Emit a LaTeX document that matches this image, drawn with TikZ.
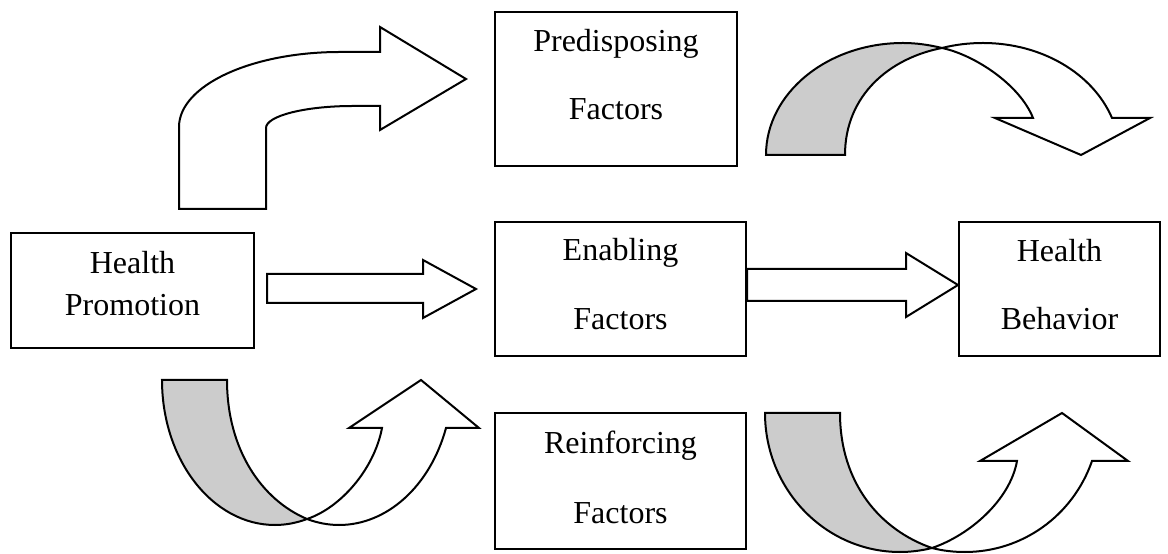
\documentclass[tikz,border=0pt]{standalone}
\usepackage{fontspec}
\setmainfont{Liberation Serif}
\definecolor{backgrey}{RGB}{204,204,204}
\newcommand{\pxu}{0.375pt}
\tikzset{
  factor/.style 2 args={draw, line width=0.75pt, inner sep=0pt,
    minimum width=#1*\pxu, minimum height=#2*\pxu},
  word/.style={anchor=base, inner sep=0pt, font=\fontsize{12}{14}\selectfont},
  front/.style={draw, line width=0.75pt, fill=white, line join=miter},
  back/.style={front, fill=backgrey}
}
\begin{document}
\begin{tikzpicture}[x=0.375pt, y=-0.375pt]
\useasboundingbox (0,0) rectangle (1168,554);

% boxes
\node[factor={243}{115}] (promo) at (132.5,290.5) {};
\node[factor={242}{154}] (predis) at (616,89) {};
\node[factor={251}{134}] (enab) at (620.5,289) {};
\node[factor={201}{134}] (behav) at (1059.5,289) {};
\node[factor={251}{136}] (reinf) at (620.5,481) {};

\node[word] (promo1) at (132.5,274) {Health};
\node[word] (promo2) at (132.5,316) {Promotion};
\node[word] (predis1) at (616,52) {Predisposing};
\node[word] (predis2) at (616,120) {Factors};
\node[word] (enab1) at (620.5,261) {Enabling};
\node[word] (enab2) at (620.5,330) {Factors};
\node[word] (behav1) at (1059.5,262) {Health};
\node[word] (behav2) at (1059.5,330) {Behavior};
\node[word] (reinf1) at (620.5,453) {Reinforcing};
\node[word] (reinf2) at (620.5,523) {Factors};

% straight arrows
\draw[front] (267,274) -- (423,274) -- (423,260) -- (476,289) -- (423,318) -- (423,303) -- (267,303) -- cycle;
\draw[front] (enab.east |- 0,269) -- (906,269) -- (906,253) -- (behav.west |- 0,285) -- (906,317) -- (906,301) -- (enab.east |- 0,301) -- cycle;

% bent arrow to predisposing
\draw[front] (179,209) -- (179,127) .. controls (179,85.6) and (251.1,52) .. (340,52) -- (380,52) -- (380,27) -- (466,79) -- (380,130) -- (380,106) -- (353,106) .. controls (305,106) and (266,115.9) .. (266,128) -- (266,209) -- cycle;

% curved arrow predisposing -> behaviour
\draw[back] (766,155) .. controls (766,93.2) and (827.4,43) .. (903,43) .. controls (916.3,43) and (929.3,44.9) .. (942,48) .. controls (890,58) and (845,95) .. (845,155) -- cycle;
\draw[front] (942,48) .. controls (955.3,44.6) and (969.1,43) .. (983,43) .. controls (1041.2,43) and (1092.7,73.1) .. (1112,118) -- (1150,118) -- (1081,155) -- (995,118) -- (1033,118) .. controls (1020,85) and (975,55) .. (942,48) -- cycle;

% curved arrow promotion -> reinforcing
\draw[back] (162,380) -- (227,380) .. controls (227,450) and (262,500) .. (307,519) .. controls (296.6,522.9) and (285.8,525) .. (275,525) .. controls (212.6,525) and (162,460) .. (162,380) -- cycle;
\draw[front] (307,519) .. controls (317.4,522.9) and (328.2,525) .. (339,525) .. controls (387,525) and (430.1,486.2) .. (446,428) -- (479,428) -- (421,380) -- (349,428) -- (382,428) .. controls (374,470) and (340,508) .. (307,519) -- cycle;

% curved arrow reinforcing -> behaviour
\draw[back] (765,413) -- (840,413) .. controls (840,483) and (880,530) .. (932,548) .. controls (921.5,550.6) and (910.8,552) .. (900,552) .. controls (825.5,552) and (765,489.7) .. (765,413) -- cycle;
\draw[front] (932,548) .. controls (942.8,550.8) and (953.9,552) .. (965,552) .. controls (1021.9,552) and (1072.7,516.2) .. (1092,461) -- (1128,461) -- (1062,413) -- (980,461) -- (1017,461) .. controls (1010,500) and (970,535) .. (932,548) -- cycle;
\end{tikzpicture}
\end{document}
